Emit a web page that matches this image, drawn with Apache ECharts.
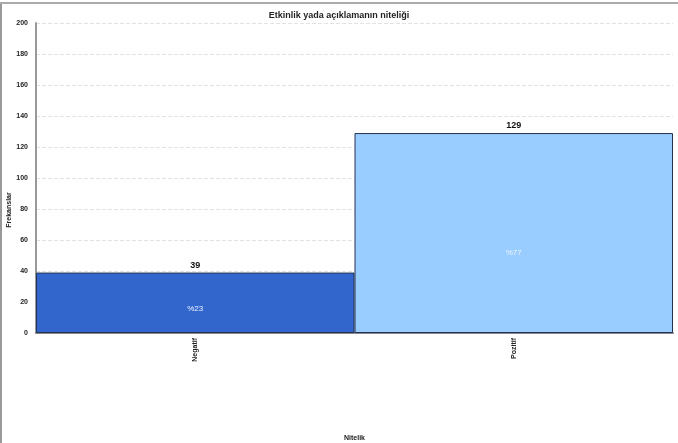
<!DOCTYPE html>
<html>
<head>
<meta charset="utf-8">
<script src="https://cdn.jsdelivr.net/npm/echarts@6/dist/echarts.min.js"></script>
<style>
  html, body { margin: 0; padding: 0; background: #fff; }
  #chart { width: 678px; height: 443px; }
</style>
</head>
<body>
<div id="chart"></div>
<script>
// veriler
const categories = ['Negatif', 'Pozitif'];
const counts = [39, 129];
const percents = ['%23', '%77'];
const barColors = ['#3366cc', '#99ccff'];
const yTicks = [0, 20, 40, 60, 80, 100, 120, 140, 160, 180, 200];

const myChart = echarts.init(document.getElementById('chart'));

const option = {
  animation: false,
  backgroundColor: '#fff',
  textStyle: { fontFamily: 'Liberation Sans, Arial, sans-serif' },
  title: {
    text: 'Etkinlik yada açıklamanın niteliği',
    left: 'center',
    top: 6,
    textStyle: { fontSize: 9, fontWeight: 'bold', color: '#222' }
  },
  // çerçeve
  graphic: [
    { type: 'line', shape: { x1: 1, y1: 3, x2: 1, y2: 443 }, style: { stroke: '#999', lineWidth: 2 } },
    { type: 'line', shape: { x1: 0, y1: 3, x2: 678, y2: 3 }, style: { stroke: '#aaa', lineWidth: 2 } }
  ],
  grid: { left: 36, right: 5, top: 23, bottom: 110, outerBoundsMode: 'none', containLabel: false },
  xAxis: {
    type: 'category',
    data: categories,
    name: 'Nitelik',
    nameLocation: 'middle',
    nameGap: 102,
    nameMoveOverlap: false,
    nameTextStyle: { fontSize: 7, fontWeight: 'bold', color: '#222' },
    axisLine: { lineStyle: { color: '#888', width: 2 } },
    axisTick: { show: false },
    axisLabel: { rotate: 90, fontSize: 7, fontWeight: 'bold', color: '#222', margin: 5 }
  },
  yAxis: {
    type: 'value',
    min: yTicks[0],
    max: yTicks[yTicks.length - 1],
    interval: 20,
    name: 'Frekanslar',
    nameLocation: 'middle',
    nameGap: 23,
    nameMoveOverlap: false,
    nameTextStyle: { fontSize: 7, fontWeight: 'bold', color: '#222', padding: [0, 64, 0, 0] },
    axisLine: { show: true, lineStyle: { color: '#999', width: 2 } },
    axisTick: { show: false },
    axisLabel: { fontSize: 7, fontWeight: 'bold', color: '#222', margin: 8 },
    splitLine: { lineStyle: { type: 'dashed', color: '#e2e2e2', width: 1 } }
  },
  series: [
    {
      type: 'bar',
      barCategoryGap: 0,
      data: counts.map((v, i) => ({
        value: v,
        itemStyle: { color: barColors[i], borderColor: '#223355', borderWidth: 1 }
      })),
      label: {
        show: true,
        position: 'top',
        distance: 3,
        fontSize: 9,
        fontWeight: 'bold',
        color: '#111'
      }
    },
    {
      type: 'bar',
      barGap: '-100%',
      barCategoryGap: 0,
      silent: true,
      data: counts,
      itemStyle: { color: 'rgba(0,0,0,0)' },
      label: {
        show: true,
        position: ['50%', '60%'],
        align: 'center',
        verticalAlign: 'middle',
        fontSize: 8,
        color: '#eef4ff',
        formatter: p => percents[p.dataIndex]
      }
    }
  ]
};

myChart.setOption(option);
</script>
</body>
</html>
